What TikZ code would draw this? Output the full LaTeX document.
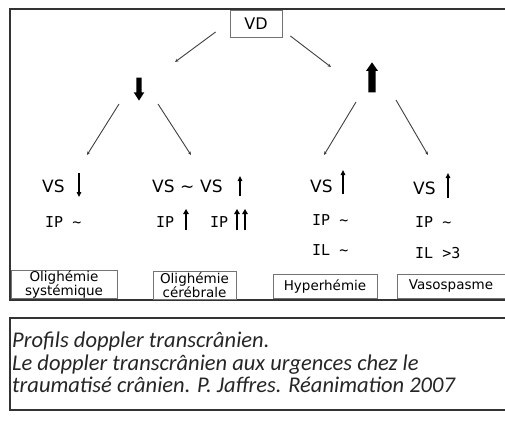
\documentclass[tikz,border=0pt]{standalone}
\usepackage{fontspec}
\usetikzlibrary{shapes.arrows,calc,arrows.meta}
\newfontfamily\dsans{DejaVu Sans}
\newfontfamily\dmono{DejaVu Sans Mono}
\newfontfamily\capfont{Carlito}
\newcommand{\tld}{\textasciitilde}
\begin{document}
\begin{tikzpicture}[x=1pt,y=-1pt,
  frame/.style={draw=black!80, line width=1.4pt},
  conn/.style={draw=black!75, line width=0.9pt, -{Stealth[length=3.5pt,width=3pt]}},
  boxline/.style={draw=black!55, line width=0.8pt},
  box/.style={boxline, inner sep=0pt, align=center, font=\dsans\fontsize{13.5}{14}\selectfont},
  boxtext/.style={inner sep=0pt, align=center, font=\dsans\fontsize{13.5}{14}\selectfont},
  vstxt/.style={inner sep=0pt, anchor=base west, font=\dsans\fontsize{17}{17}\selectfont},
  iptxt/.style={inner sep=0pt, anchor=base west, font=\dmono\fontsize{15}{15}\selectfont},
  bigarr/.style={single arrow, fill=black, draw=none, single arrow head indent=0pt},
  thinarr/.style={line width=1.3pt, -{Triangle[length=5pt,width=4.5pt]}},
  thickarr/.style={line width=2.2pt, -{Triangle[length=5pt,width=5.5pt]}}
  ]
\useasboundingbox (0,0) rectangle (505,437);
\fill[white] (0,0) rectangle (505,437);

% frames
\draw[frame] (505,9) -- (10,9) -- (10,300) -- (505,300);
\draw[frame] (505,318) -- (10,318) -- (10,410) -- (505,410);

% top node
\node[box, minimum width=52pt, minimum height=27pt, font=\dsans\fontsize{16}{16}\selectfont] (vd) at (256,24) {VD};

% big arrows
\node[bigarr, minimum height=23pt, inner sep=2.5pt, single arrow head extend=2.6pt, single arrow tip angle=65, shape border rotate=270] (down) at (139,87) {};
\node[bigarr, minimum height=30pt, inner sep=3.5pt, single arrow head extend=2.2pt, single arrow tip angle=70, shape border rotate=90] (up) at (372,80) {};

% labels
\node[vstxt] (vs1) at (42,192) {VS};
\node[iptxt] (ip1) at (45,227) {IP \tld};
\node[vstxt] (vs2) at (152,192) {VS \tld};
\node[vstxt] (vs3) at (200,192) {VS};
\node[iptxt] (ip2) at (156,227) {IP};
\node[iptxt] (ip3) at (210,227) {IP};
\node[vstxt] (vs4) at (310,192) {VS};
\node[iptxt] (ip4) at (312,225) {IP \tld};
\node[iptxt] (il4) at (312,255) {IL \tld};
\node[vstxt] (vs5) at (413,194) {VS};
\node[iptxt] (ip5) at (415,227) {IP \tld};
\node[iptxt] (il5) at (415,258) {IL >3};

% small arrows
\draw[thinarr] (79,173) -- (79,197);
\draw[thinarr] (240,196) -- (240,176);
\draw[thickarr] (186,230) -- (186,209);
\draw[thickarr] (237,230) -- (237,209);
\draw[thickarr] (245,230) -- (245,209);
\draw[thinarr] (343,194) -- (343,170);
\draw[thinarr] (448,198) -- (448,173);

% result boxes
\node[box, minimum width=106pt, minimum height=28pt] (sys) at (64,284) {Olighémie\\systémique};
\node[box, minimum width=83pt, minimum height=28pt] (cer) at (194.5,285) {Olighémie\\cérébrale};
\node[box, minimum width=104pt, minimum height=24pt] (hyp) at (325,286) {Hyperhémie};
\node[boxtext] (vaso) at (451,286) {Vasospasme};
\draw[boxline] (505,274) -- (397,274) -- (397,298) -- (505,298);

% connectors
\draw[conn] ($(vd.west)+(-14,8)$) -- ($(down.center)+(36,-25)$);
\draw[conn] ($(vd.east)+(8,12)$) -- ($(up.center)+(-41,-13)$);
\draw[conn] ($(down.center)+(-20,17)$) -- ($(vs1.base west)+(45,-37)$);
\draw[conn] ($(down.center)+(19,17)$) -- ($(vs2.base west)+(39,-37)$);
\draw[conn] ($(up.center)+(-16,22)$) -- ($(vs4.base west)+(14,-37)$);
\draw[conn] ($(up.center)+(24,20)$) -- ($(vs5.base west)+(15,-39)$);

% caption
\node[anchor=north west, inner sep=0pt, align=left, text=black!85,
  font=\capfont\itshape\fontsize{22.5}{22.5}\selectfont] (cap) at (12,332)
  {Profils doppler transcrânien.\\Le doppler transcrânien aux urgences chez le\\traumatisé crânien. P. Jaffres. Réanimation 2007};
\end{tikzpicture}
\end{document}
